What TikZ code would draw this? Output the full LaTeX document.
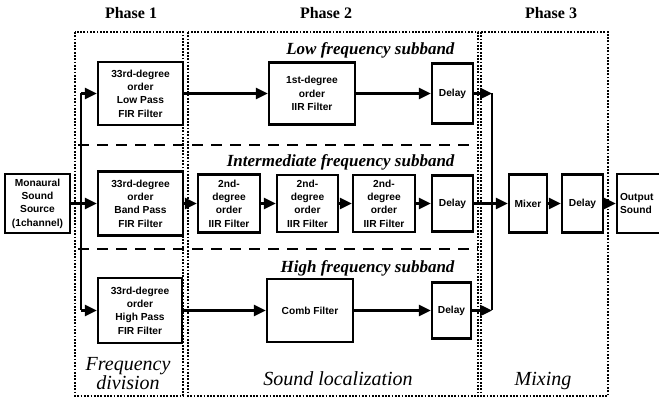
\documentclass[tikz,border=0pt]{standalone}
\usepackage{fontspec}
\setmainfont{Liberation Serif}
\setsansfont{Liberation Sans}
\usetikzlibrary{arrows.meta}
\begin{document}
\begin{tikzpicture}[x=1pt,y=-1pt,
 blk/.style={draw, line width=2.4pt, inner sep=0pt, align=center, font=\sffamily\bfseries\fontsize{10.2}{13.3}\selectfont},
 arr/.style={line width=2.4pt, -{Triangle[length=12pt,width=11pt]}},
 wire/.style={line width=2.4pt},
 phasebox/.style={line width=2.7pt, dash pattern=on 1.8pt off 1.5pt},
 sepline/.style={line width=2.6pt, dash pattern=on 11pt off 8pt},
 ptitle/.style={font=\bfseries\fontsize{16}{18}\selectfont, anchor=base},
 sub/.style={font=\bfseries\itshape\fontsize{17}{18}\selectfont, anchor=base east},
 stage/.style={font=\itshape\fontsize{20}{20}\selectfont, align=center, anchor=base}]
\useasboundingbox (0,0) rectangle (659,403);

% phase frames
\draw[phasebox] (75,32) rectangle (183,396);
\draw[phasebox] (188,32) rectangle (478,396);
\draw[phasebox] (481,32) rectangle (608,396);

% separators
\draw[sepline] (78,145) -- (478,145);
\draw[sepline] (78,249) -- (478,249);

% titles
\node[ptitle] (t1) at (131,19) {Phase 1};
\node[ptitle] (t2) at (326,19) {Phase 2};
\node[ptitle] (t3) at (551,19) {Phase 3};

\node[sub] (s1) at (458,55) {Low frequency subband};
\node[sub] (s2) at (458,167) {Intermediate frequency subband};
\node[sub] (s3) at (458,273) {High frequency subband};

\node[stage] (g1) at (128,390) {Frequency\\division};
\node[stage] (g2) at (338,386) {Sound localization};
\node[stage] (g3) at (543,386) {Mixing};

% blocks
\node[blk, minimum width=65pt, minimum height=59pt] (src) at (37.5,203.5) {Monaural\\Sound\\Source\\(1channel)};
\node[blk, minimum width=85pt, minimum height=63pt] (lp) at (140.5,93.5) {33rd-degree\\order\\Low Pass\\FIR Filter};
\node[blk, minimum width=85pt, minimum height=64pt] (bp) at (140.5,203.5) {33rd-degree\\order\\Band Pass\\FIR Filter};
\node[blk, minimum width=84pt, minimum height=65pt] (hp) at (140,310.5) {33rd-degree\\order\\High Pass\\FIR Filter};

\node[blk, minimum width=86pt, minimum height=62pt] (iir1) at (312,93.5) {1st-degree\\order\\IIR Filter};
\node[blk, minimum width=62pt, minimum height=58pt] (m1) at (229,203.5) {2nd-\\degree\\order\\IIR Filter};
\node[blk, minimum width=61pt, minimum height=57pt] (m2) at (307.5,203.5) {2nd-\\degree\\order\\IIR Filter};
\node[blk, minimum width=62pt, minimum height=57pt] (m3) at (384,203.5) {2nd-\\degree\\order\\IIR Filter};
\node[blk, minimum width=86pt, minimum height=63pt] (comb) at (310,310.5) {Comb Filter};

\node[blk, minimum width=41pt, minimum height=60pt] (dl) at (452.5,93.5) {Delay};
\node[blk, minimum width=41pt, minimum height=56pt] (dm) at (452.5,203.5) {Delay};
\node[blk, minimum width=39pt, minimum height=56pt] (dh) at (451.5,310.5) {Delay};

\node[blk, minimum width=38pt, minimum height=58pt] (mix) at (528,203.5) {Mixer};
\node[blk, minimum width=41pt, minimum height=58pt] (d3) at (582.5,203.5) {Delay};
\node[blk, minimum width=48pt, minimum height=59pt, text width=42pt, align=left] (out) at (641,203.5) {\hspace*{0pt}Output\\Sound};

% splitting
\coordinate (jt) at (81,93.5);
\coordinate (jb) at (81,310.5);
\draw[arr] (src) -- (bp);
\draw[wire] (jt) -- (jb);
\draw[arr] (jt) -- (lp);
\draw[arr] (jb) -- (hp);

% rows
\draw[arr] (lp) -- (iir1);
\draw[arr] (iir1) -- (dl);
\draw[arr] (bp) -- (m1);
\draw[arr] (m1) -- (m2);
\draw[arr] (m2) -- (m3);
\draw[arr] (m3) -- (dm);
\draw[arr] (hp) -- (comb);
\draw[arr] (comb) -- (dh);

% merging
\coordinate (mt) at (492,93.5);
\coordinate (mb) at (492,310.5);
\draw[wire] (mt) -- (mb);
\draw[arr] (dl) -- (mt);
\draw[arr] (dh) -- (mb);
\draw[arr] (dm) -- (mix);
\draw[arr] (mix) -- (d3);
\draw[arr] (d3) -- (out);
\end{tikzpicture}
\end{document}
